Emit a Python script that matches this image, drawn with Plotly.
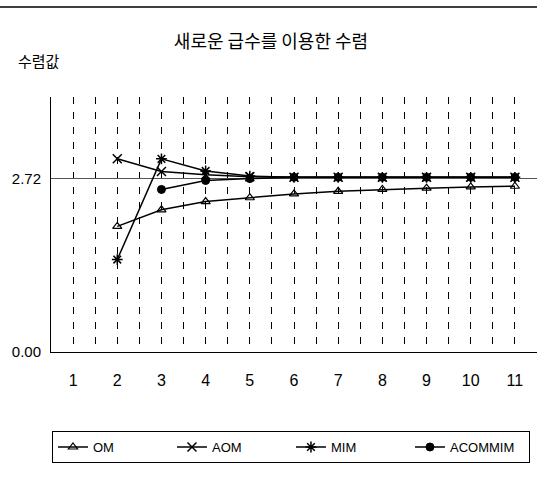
import plotly.graph_objects as go

x_vals = [1, 2, 3, 4, 5, 6, 7, 8, 9, 10, 11]
om = [None, 1.97, 2.23, 2.36, 2.42, 2.48, 2.52, 2.55, 2.57, 2.59, 2.60]
aom = [None, 3.03, 2.83, 2.78, 2.75, 2.74, 2.74, 2.74, 2.74, 2.74, 2.74]
mim = [None, 1.45, 3.03, 2.84, 2.76, 2.74, 2.74, 2.74, 2.74, 2.74, 2.74]
acommim = [None, None, 2.55, 2.69, 2.72, 2.74, 2.74, 2.74, 2.74, 2.74, 2.74]
y_ticks = [0, 2.72]
y_ticktext = ["0.00", "2.72"]
title_text = "새로운 급수를 이용한 수렴"
y_label = "수렴값"

num_font = "Liberation Sans Narrow, Liberation Sans, Arial"
kr_font = "Noto Sans CJK KR"

fig = go.Figure()
series = [
    ("OM", om, "triangle-up-open", 8, 1.2),
    ("AOM", aom, "x-thin-open", 9, 1.5),
    ("MIM", mim, "asterisk-open", 9, 1.5),
    ("ACOMMIM", acommim, "circle", 8, 1),
]
for name, vals, sym, size, lw in series:
    fig.add_trace(go.Scatter(
        x=x_vals, y=vals, name=name, mode="lines+markers",
        line=dict(color="black", width=1.5),
        marker=dict(symbol=sym, size=size, color="black",
                    line=dict(color="black", width=lw)),
        connectgaps=False,
    ))

grid_vals = [v / 2 for v in range(2, 24)]
grid_text = [str(int(v)) if v == int(v) else "" for v in grid_vals]

fig.update_layout(
    width=537, height=477,
    margin=dict(l=51, r=0, t=97, b=125),
    paper_bgcolor="white", plot_bgcolor="white",
    title=dict(text=title_text, x=271 / 537, xanchor="center",
               y=1 - 42 / 477, yanchor="middle", yref="container",
               font=dict(family=kr_font, size=18, color="black")),
    xaxis=dict(range=[0.5, 11.5], tickmode="array", tickvals=grid_vals,
               ticktext=grid_text, showgrid=True, gridcolor="black",
               griddash="7px,8px", gridwidth=1, showline=True,
               linecolor="black", linewidth=1, zeroline=False, ticks="",
               automargin=False, ticklabelstandoff=14,
               tickfont=dict(family=num_font, size=16, color="black")),
    yaxis=dict(range=[0, 4.0], tickmode="array", tickvals=y_ticks,
               ticktext=y_ticktext, showgrid=True, gridcolor="#555555",
               gridwidth=1, showline=True, linecolor="black", linewidth=1,
               zeroline=False, ticks="", automargin=False,
               ticklabelstandoff=6,
               tickfont=dict(family=num_font, size=15, color="black")),
    legend=dict(orientation="h", x=0.002, xanchor="left", y=-0.31,
                yanchor="top", bordercolor="black", borderwidth=1,
                entrywidth=74, entrywidthmode="pixels",
                font=dict(family=num_font, size=13, color="black"),
                bgcolor="white"),
    showlegend=True,
)

fig.add_annotation(text=y_label, xref="paper", yref="paper",
                   x=(16 - 51) / 486, y=(352 - 60) / 255,
                   xanchor="left", yanchor="middle", showarrow=False,
                   font=dict(family=kr_font, size=15, color="black"))
fig.add_shape(type="line", xref="paper", yref="paper",
              x0=-51 / 486, x1=1, y0=(352 - 7) / 255, y1=(352 - 7) / 255,
              line=dict(color="black", width=1.5))

fig.write_html("out.html", config={"displayModeBar": False},
               post_script="document.body.style.margin='0';")
